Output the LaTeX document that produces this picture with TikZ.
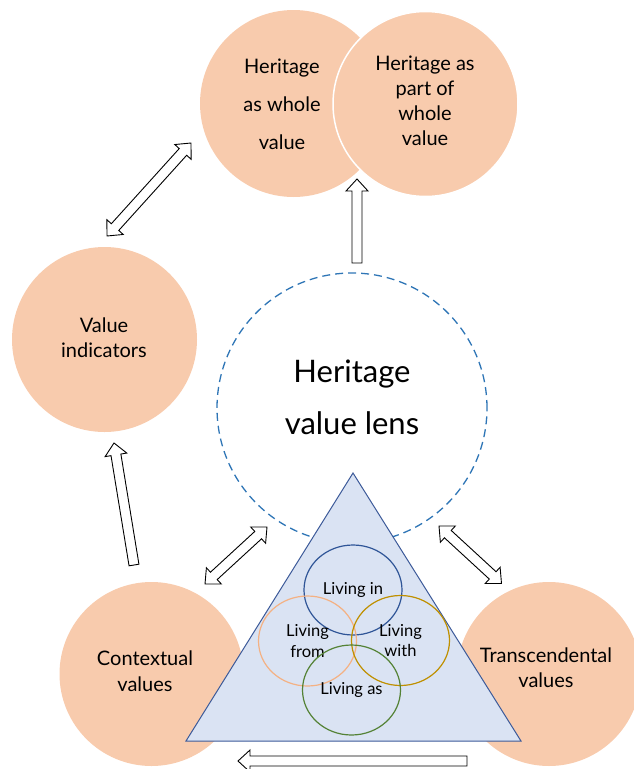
\documentclass[tikz,border=0pt]{standalone}
\usepackage{fontspec}
\setmainfont{Lato}
\usetikzlibrary{calc, shapes.geometric}

\definecolor{peach}{HTML}{F8CBAD}
\definecolor{lensblue}{HTML}{2E75B6}
\definecolor{trifill}{HTML}{DAE3F3}
\definecolor{triedge}{HTML}{3C5A99}
\definecolor{inblue}{HTML}{2F5597}
\definecolor{fromorange}{HTML}{F4B183}
\definecolor{withgold}{HTML}{BF9000}
\definecolor{asgreen}{HTML}{548235}

% hollow block arrows between two coordinates
\newcommand{\onewayarrow}[2]{%
  \coordinate (hb) at ($(#2)!12pt!(#1)$);
  \draw[blockarrow] ($(#1)!5pt!90:(#2)$) -- ($(hb)!5pt!90:(#2)$) -- ($(hb)!11pt!90:(#2)$) -- (#2)
    -- ($(hb)!11pt!-90:(#2)$) -- ($(hb)!5pt!-90:(#2)$) -- ($(#1)!5pt!-90:(#2)$) -- cycle;}
\newcommand{\twowayarrow}[2]{%
  \coordinate (ha) at ($(#1)!12pt!(#2)$);
  \coordinate (hb) at ($(#2)!12pt!(#1)$);
  \draw[blockarrow] (#1) -- ($(ha)!11pt!90:(#2)$) -- ($(ha)!5pt!90:(#2)$) -- ($(hb)!5pt!90:(#2)$)
    -- ($(hb)!11pt!90:(#2)$) -- (#2) -- ($(hb)!11pt!-90:(#2)$) -- ($(hb)!5pt!-90:(#2)$)
    -- ($(ha)!5pt!-90:(#2)$) -- ($(ha)!11pt!-90:(#2)$) -- cycle;}

\begin{document}
\begin{tikzpicture}[x=1pt, y=-1pt,
    bubble/.style={circle, fill=peach, inner sep=0pt},
    blockarrow/.style={draw=black, fill=white, line width=0.9pt, line join=miter},
    ring/.style={ellipse, draw, line width=1.2pt, minimum width=98pt, minimum height=90pt,
      inner sep=0pt, align=center, font=\fontsize{16.5}{20.5}\selectfont},
    bigtext/.style={align=center, font=\fontsize{20}{25}\selectfont}]
    \useasboundingbox (0,0) rectangle (634,769);

    \coordinate (apex) at (353,473);
    \coordinate (baseL) at (186,741);
    \coordinate (baseR) at (521,741);

    % the two top circles, the right one over the left
    \node[bubble, minimum size=187pt] (whole) at (293.5,103.5) {};
    \node[bubble, minimum size=185pt, draw=white, line width=1.5pt] (part) at (425.5,104) {};

    \node[circle, draw=lensblue, line width=1.3pt, dash pattern=on 8pt off 5pt,
      minimum size=270pt, inner sep=0pt] (lens) at (352,408) {};

    \node[bubble, minimum size=185pt] (indic) at (104.5,339.5) {};
    \node[bubble, minimum size=184pt] (context) at (151.5,674) {};
    \node[bubble, minimum size=184pt] (transc) at (549,674) {};

    \draw[fill=trifill, draw=triedge, line width=1pt] (apex) -- (baseL) -- (baseR) -- cycle;

    \node[ring, draw=inblue] (livein) at (353,590) {Living in};
    \node[ring, draw=fromorange] (livefrom) at (307.5,641) {Living\\from};
    \node[ring, draw=withgold] (livewith) at (400.5,640.5) {Living\\with};
    \node[ring, draw=asgreen] (liveas) at (351.5,690) {Living as};

    \node[bigtext, font=\fontsize{20}{38}\selectfont] (wholetxt) at (282,104.7) {Heritage\\as whole\\value};
    \node[bigtext] (parttxt) at (425,101) {Heritage as\\part of\\whole\\value};
    \node[align=center, font=\fontsize{31}{52}\selectfont] (lenstxt) at (352,397) {Heritage\\value lens};
    \node[bigtext] (indictxt) at (104,338) {Value\\indicators};
    \node[bigtext, font=\fontsize{20}{26}\selectfont] (contexttxt) at (145,671) {Contextual\\values};
    \node[bigtext] (transctxt) at (546,668) {Transcendental\\values};

    % arrow ends
    \coordinate (u1) at (357,263);
    \coordinate (u2) at (357,179);
    \coordinate (d1) at (107,236);
    \coordinate (d2) at (191,143);
    \coordinate (c1) at (134,565);
    \coordinate (c2) at (114,443);
    \coordinate (l1) at (205,584);
    \coordinate (l2) at (267,527);
    \coordinate (r1) at (439,526);
    \coordinate (r2) at (501.5,583.5);
    \coordinate (b1) at (467,761);
    \coordinate (b2) at (238,761);

    \onewayarrow{u1}{u2}
    \twowayarrow{d1}{d2}
    \onewayarrow{c1}{c2}
    \twowayarrow{l1}{l2}
    \twowayarrow{r1}{r2}
    \onewayarrow{b1}{b2}
\end{tikzpicture}
\end{document}
